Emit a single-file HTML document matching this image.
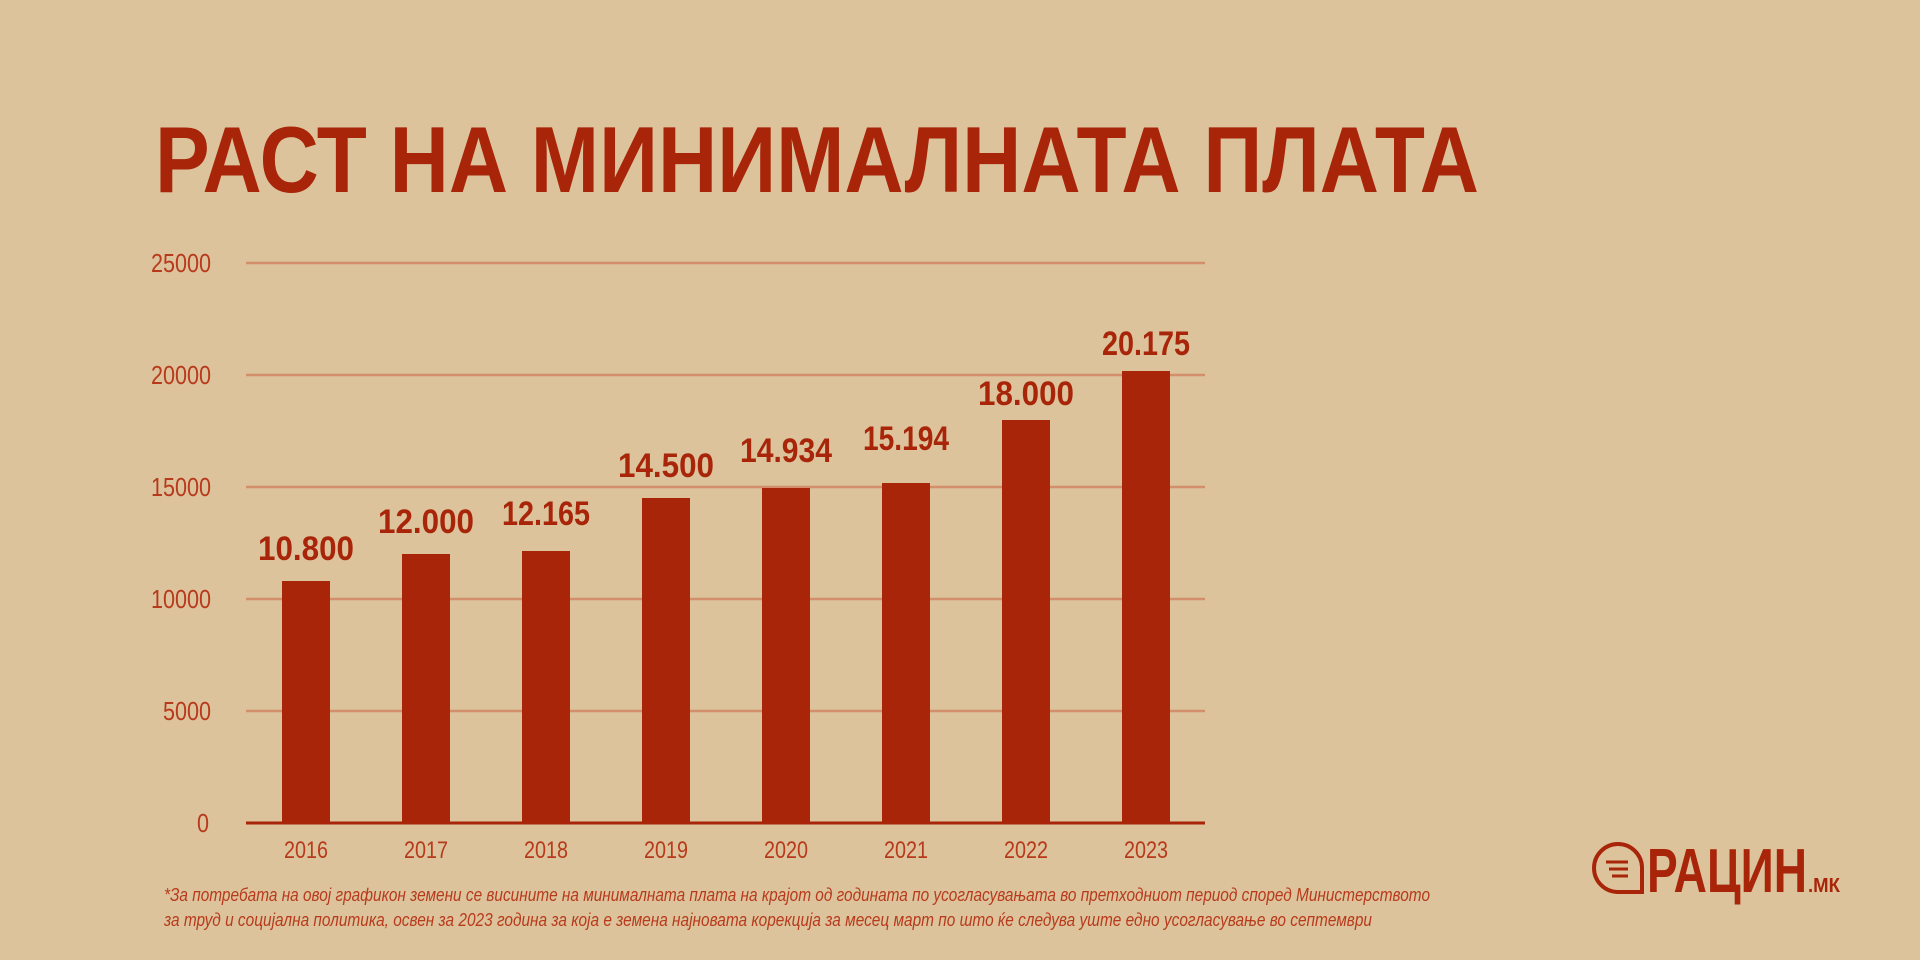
<!DOCTYPE html>
<html><head><meta charset="utf-8"><style>
html,body{margin:0;padding:0;background:#dcc39b;}
svg{display:block}
</style></head><body>
<svg width="1920" height="960" viewBox="0 0 1920 960" xmlns="http://www.w3.org/2000/svg" font-family="Liberation Sans, DejaVu Sans, sans-serif">
<rect width="1920" height="960" fill="#dcc39b"/>
<text x="155" y="192" font-size="94" font-weight="bold" fill="#a8250a" textLength="1324" lengthAdjust="spacingAndGlyphs">РАСТ НА МИНИМАЛНАТА ПЛАТА</text>
<g stroke="#d38f6c" stroke-width="2.5">
<line x1="246" y1="263" x2="1205" y2="263"/>
<line x1="246" y1="375" x2="1205" y2="375"/>
<line x1="246" y1="487" x2="1205" y2="487"/>
<line x1="246" y1="599" x2="1205" y2="599"/>
<line x1="246" y1="711" x2="1205" y2="711"/>
</g>
<g font-size="26" fill="#b83a1c" text-anchor="end">
<text x="211" y="272" textLength="60" lengthAdjust="spacingAndGlyphs">25000</text>
<text x="211" y="384" textLength="60" lengthAdjust="spacingAndGlyphs">20000</text>
<text x="211" y="496" textLength="60" lengthAdjust="spacingAndGlyphs">15000</text>
<text x="211" y="608" textLength="60" lengthAdjust="spacingAndGlyphs">10000</text>
<text x="211" y="720" textLength="48" lengthAdjust="spacingAndGlyphs">5000</text>
<text x="209" y="832" textLength="12" lengthAdjust="spacingAndGlyphs">0</text>
</g>
<g fill="#a8250a">
<rect x="282" y="581" width="48" height="242"/>
<rect x="402" y="554" width="48" height="269"/>
<rect x="522" y="551" width="48" height="272"/>
<rect x="642" y="498" width="48" height="325"/>
<rect x="762" y="488" width="48" height="335"/>
<rect x="882" y="483" width="48" height="340"/>
<rect x="1002" y="420" width="48" height="403"/>
<rect x="1122" y="371" width="48" height="452"/>
</g>
<line x1="246" y1="823" x2="1205" y2="823" stroke="#a8250a" stroke-width="3"/>
<g font-size="34" fill="#a8250a" text-anchor="middle" font-weight="bold">
<text x="306" y="560" textLength="96" lengthAdjust="spacingAndGlyphs">10.800</text>
<text x="426" y="533" textLength="96" lengthAdjust="spacingAndGlyphs">12.000</text>
<text x="546" y="525" textLength="88" lengthAdjust="spacingAndGlyphs">12.165</text>
<text x="666" y="477" textLength="96" lengthAdjust="spacingAndGlyphs">14.500</text>
<text x="786" y="462" textLength="92" lengthAdjust="spacingAndGlyphs">14.934</text>
<text x="906" y="450" textLength="86" lengthAdjust="spacingAndGlyphs">15.194</text>
<text x="1026" y="405" textLength="96" lengthAdjust="spacingAndGlyphs">18.000</text>
<text x="1146" y="355" textLength="88" lengthAdjust="spacingAndGlyphs">20.175</text>
</g>
<g font-size="24" fill="#b83a1c" text-anchor="middle">
<text x="306" y="858" textLength="44" lengthAdjust="spacingAndGlyphs">2016</text>
<text x="426" y="858" textLength="44" lengthAdjust="spacingAndGlyphs">2017</text>
<text x="546" y="858" textLength="44" lengthAdjust="spacingAndGlyphs">2018</text>
<text x="666" y="858" textLength="44" lengthAdjust="spacingAndGlyphs">2019</text>
<text x="786" y="858" textLength="44" lengthAdjust="spacingAndGlyphs">2020</text>
<text x="906" y="858" textLength="44" lengthAdjust="spacingAndGlyphs">2021</text>
<text x="1026" y="858" textLength="44" lengthAdjust="spacingAndGlyphs">2022</text>
<text x="1146" y="858" textLength="44" lengthAdjust="spacingAndGlyphs">2023</text>
</g>
<g font-size="18" font-style="italic" fill="#b83a1c">
<text x="164" y="901" textLength="1266" lengthAdjust="spacingAndGlyphs">*За потребата на овој графикон земени се висините на минималната плата на крајот од годината по усогласувањата во претходниот период според Министерството</text>
<text x="164" y="926" textLength="1208" lengthAdjust="spacingAndGlyphs">за труд и социјална политика, освен за 2023 година за која е земена најновата корекција за месец март по што ќе следува уште едно усогласување во септември</text>
</g>
<g fill="none" stroke="#a8250a" stroke-width="4">
<path d="M1617 892 L1642 892 L1642 867 A24 24 0 1 0 1617 892 Z"/>
</g>
<g stroke="#a8250a" stroke-width="3">
<line x1="1606" y1="862" x2="1628" y2="862"/>
<line x1="1609" y1="869" x2="1628" y2="869"/>
<line x1="1612" y1="876" x2="1628" y2="876"/>
</g>
<text x="1647" y="892" font-size="62" font-weight="bold" fill="#a8250a" textLength="160" lengthAdjust="spacingAndGlyphs">РАЦИН</text>
<text x="1808" y="892" font-size="20" font-weight="bold" fill="#a8250a" textLength="32" lengthAdjust="spacingAndGlyphs">.МК</text>
</svg>
</body></html>
